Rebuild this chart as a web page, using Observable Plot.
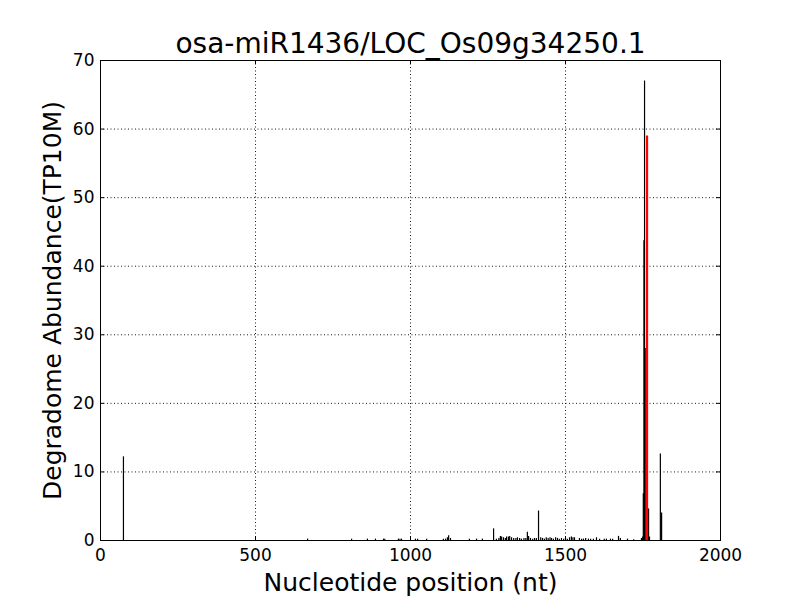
<!DOCTYPE html>
<html>
<head>
<meta charset="utf-8">
<script src="https://cdn.jsdelivr.net/npm/d3@7"></script>
<script src="https://cdn.jsdelivr.net/npm/@observablehq/plot@0.6"></script>
<style>
  html, body { margin: 0; padding: 0; background: #fff; }
  #chart svg { display: block; }
</style>
</head>
<body>
<div id="chart"></div>
<script>
const titleText = "osa-miR1436/LOC_Os09g34250.1";
const xLabel = "Nucleotide position (nt)";
const yLabel = "Degradome Abundance(TP10M)";
const xTicks = [0, 500, 1000, 1500, 2000];
const yTicks = [0, 10, 20, 30, 40, 50, 60, 70];

// Degradome read positions (nt) and abundances (TP10M)
const positions = [74, 668, 810, 861, 887, 913, 917, 961, 966, 971, 1016, 1023, 1052, 1106, 1113, 1119, 1123, 1129,
  1190, 1213, 1232, 1268, 1277, 1285, 1290, 1294, 1300, 1306, 1310, 1316, 1320, 1326, 1333, 1340, 1345, 1352, 1358,
  1366, 1372, 1377, 1381, 1387, 1394, 1400, 1406, 1413, 1420, 1426, 1432, 1438, 1444, 1450, 1455, 1461, 1468, 1474,
  1480, 1487, 1494, 1500, 1506, 1513, 1519, 1524, 1529, 1545, 1552, 1558, 1565, 1574, 1581, 1590, 1600, 1610, 1625,
  1632, 1645, 1652, 1671, 1677, 1700, 1720, 1745, 1749, 1751, 1753, 1755, 1757, 1765, 1768, 1771, 1806, 1810];
const abundances = [12.2, 0.2, 0.2, 0.2, 0.2, 0.2, 0.2, 0.2, 0.2, 0.2, 0.2, 0.2, 0.2, 0.2, 0.2, 0.4, 0.7, 0.3,
  0.2, 0.2, 0.2, 1.7, 0.2, 0.3, 0.6, 0.5, 0.4, 0.3, 0.5, 0.5, 0.6, 0.4, 0.3, 0.3, 0.4, 0.3, 0.2,
  0.3, 0.3, 1.2, 0.6, 0.3, 0.2, 0.3, 0.3, 4.3, 0.4, 0.3, 0.2, 0.4, 0.3, 0.4, 0.3, 0.2, 0.4, 0.3,
  0.2, 0.3, 0.2, 0.3, 0.2, 0.4, 0.5, 0.4, 0.4, 0.3, 0.2, 0.2, 0.3, 0.2, 0.2, 0.2, 0.4, 0.2, 0.2,
  0.2, 0.2, 0.2, 0.6, 0.3, 0.2, 0.1, 0.3, 0.5, 6.8, 43.7, 67, 28, 0.5, 4.6, 0.5, 12.6, 4.0];

// Predicted cleavage site
const sitePositions = [1763];
const siteAbundances = [59];

const reads = positions.map((p, i) => ({pos: p, val: abundances[i]}));
const sites = sitePositions.map((p, i) => ({pos: p, val: siteAbundances[i]}));

const W = 800, H = 600;
const mL = 100, mR = 80, mT = 60, mB = 60;
const xPerPx = 2000 / (W - mL - mR);
const yPerPx = 70 / (H - mT - mB);
const tickLen = 4;

const font = "DejaVu Sans, sans-serif";

const plot = Plot.plot({
  width: W,
  height: H,
  marginLeft: mL,
  marginRight: mR,
  marginTop: mT,
  marginBottom: mB,
  style: {fontFamily: font, fontSize: "17px", color: "black", background: "white"},
  x: {domain: [0, 2000], ticks: xTicks, tickSize: 0, tickPadding: 8, tickFormat: d => String(d), label: null},
  y: {domain: [0, 70], ticks: yTicks, tickSize: 0, tickPadding: 6, tickFormat: d => String(d), label: null},
  marks: [
    // dotted grid
    Plot.ruleX(xTicks.slice(1, -1), {stroke: "black", strokeWidth: 1, strokeDasharray: "1,2.5", strokeOpacity: 0.9}),
    Plot.ruleY(yTicks.slice(1, -1), {stroke: "black", strokeWidth: 1, strokeDasharray: "1,2.5", strokeOpacity: 0.9}),
    // reads
    Plot.ruleX(reads, {x: "pos", y1: 0, y2: "val", stroke: "black", strokeWidth: 1.2}),
    // cleavage site
    Plot.ruleX(sites, {x: "pos", y1: 0, y2: "val", stroke: "#ff0000", strokeWidth: 2.2}),
    // inward ticks
    Plot.ruleX(xTicks, {x: d => d, y1: 0, y2: tickLen * yPerPx, stroke: "black"}),
    Plot.ruleX(xTicks, {x: d => d, y1: 70 - tickLen * yPerPx, y2: 70, stroke: "black"}),
    Plot.ruleY(yTicks, {y: d => d, x1: 0, x2: tickLen * xPerPx, stroke: "black"}),
    Plot.ruleY(yTicks, {y: d => d, x1: 2000 - tickLen * xPerPx, x2: 2000, stroke: "black"}),
    Plot.frame({stroke: "black", strokeWidth: 1}),
    // axis labels and title
    Plot.text([titleText], {frameAnchor: "top", dy: -16, fontSize: 28, fill: "black", lineAnchor: "middle", textAnchor: "middle"}),
    Plot.text([xLabel], {frameAnchor: "bottom", dy: 42, fontSize: 25, fill: "black", lineAnchor: "middle", textAnchor: "middle"}),
    Plot.text([yLabel], {frameAnchor: "left", dx: -48, rotate: -90, fontSize: 25, fill: "black", lineAnchor: "middle", textAnchor: "middle"})
  ]
});

document.getElementById("chart").appendChild(plot);
</script>
</body>
</html>
